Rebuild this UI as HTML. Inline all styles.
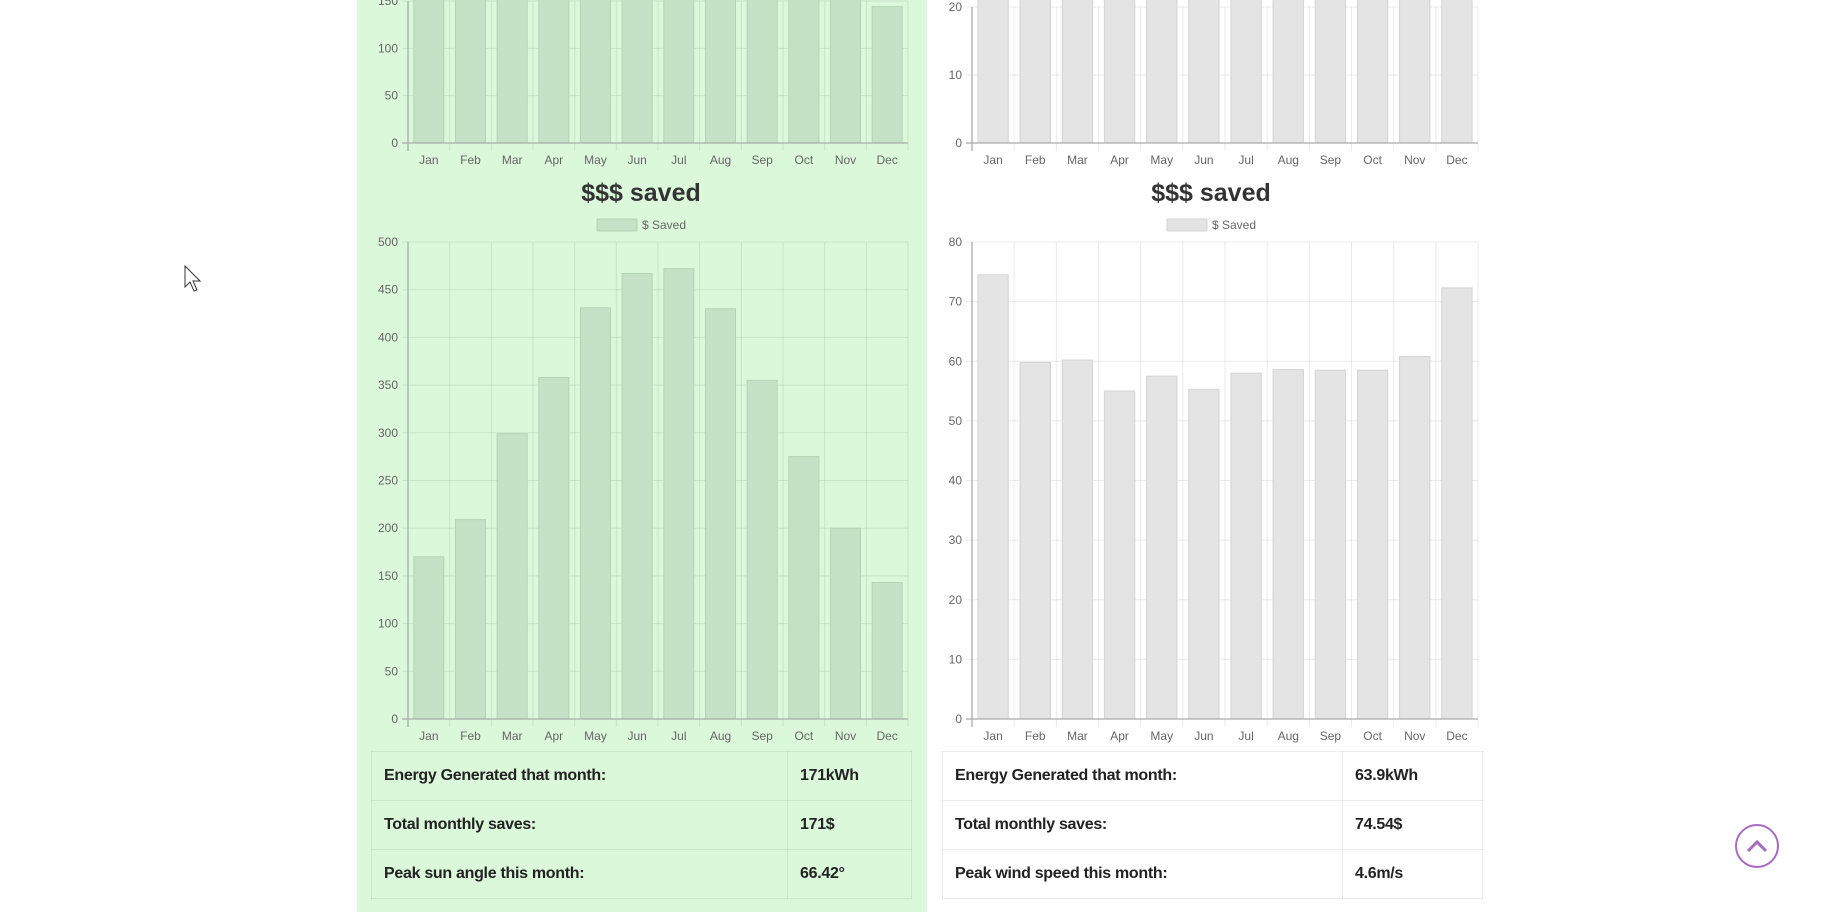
<!DOCTYPE html>
<html><head><meta charset="utf-8">
<style>
html,body{margin:0;padding:0;background:#fff;width:1842px;height:912px;overflow:hidden;font-family:"Liberation Sans",sans-serif}
svg{position:absolute;left:0;top:0}
.tbl{position:absolute;border-collapse:collapse;font-weight:bold;font-size:16px;color:#222;letter-spacing:-0.3px}
.tbl td{border:1px solid rgba(0,0,0,0.07);height:48px;padding:0 0 0 12px}
</style></head><body>
<svg id="s" width="1842" height="912">
<rect x="357" y="0" width="570" height="912" fill="#dbf8db"/>
</svg>
<table class="tbl" style="left:371px;top:751px;width:541px">
<tr><td style="width:403px">Energy Generated that month:</td><td>171kWh</td></tr>
<tr><td>Total monthly saves:</td><td>171$</td></tr>
<tr><td>Peak sun angle this month:</td><td>66.42°</td></tr>
</table>
<table class="tbl" style="left:942px;top:751px;width:541px">
<tr><td style="width:387px">Energy Generated that month:</td><td>63.9kWh</td></tr>
<tr><td>Total monthly saves:</td><td>74.54$</td></tr>
<tr><td>Peak wind speed this month:</td><td>4.6m/s</td></tr>
</table>
<script>
const months=["Jan","Feb","Mar","Apr","May","Jun","Jul","Aug","Sep","Oct","Nov","Dec"];
const solarTopValues=[160,160,160,160,160,160,160,160,160,160,160,144];
const solarTopTicks=[0,50,100,150];
const solarSavedValues=[170,209,299,358,431,467,472,430,355,275,200,143];
const solarSavedTicks=[0,50,100,150,200,250,300,350,400,450,500];
const windTopValues=[22,22,22,22,22,22,22,22,22,22,22,22];
const windTopTicks=[0,10,20];
const windSavedValues=[74.5,59.8,60.2,55,57.5,55.3,58,58.6,58.5,58.5,60.8,72.3];
const windSavedTicks=[0,10,20,30,40,50,60,70,80];
const svg=document.getElementById('s');
const NS='http://www.w3.org/2000/svg';
function mk(tag,attrs,parent){const e=document.createElementNS(NS,tag);for(const k in attrs)e.setAttribute(k,attrs[k]);(parent||svg).appendChild(e);return e;}
function chart(name,x0,x1,y0,yTopPx,maxV,ticks,vals,fill,stroke,grid){
  const g=mk('g',{});
  
  
  const ys=v=>y0-(v/maxV)*(y0-yTopPx);
  const cw=(x1-x0)/months.length;
  ticks.forEach(t=>{const y=ys(t);
    const l=mk('line',{x1:x0-6,x2:x1,y1:y,y2:y,stroke:grid,'stroke-width':1},g);
    
    
    const tx=mk('text',{x:x0-10,y:y+4,'text-anchor':'end','font-size':12,fill:'#666'},g);tx.textContent=t;
    
    
  });
  for(let i=0;i<=months.length;i++){const x=x0+i*cw;
    const l=mk('line',{x1:x,x2:x,y1:Math.max(yTopPx,0),y2:y0+8,stroke:grid,'stroke-width':1},g);
    
    }
  vals.forEach((v,i)=>{const bw=cw*0.72;const x=x0+i*cw+(cw-bw)/2;const y=Math.max(ys(v),-2);
    const r=mk('rect',{x:x,y:y,width:bw,height:y0-y,fill:fill,stroke:stroke,'stroke-width':1},g);
    
    
    const tx=mk('text',{x:x0+i*cw+cw/2,y:y0+21,'text-anchor':'middle','font-size':12,fill:'#666'},g);tx.textContent=months[i];
    
    
  });
  const ax=mk('line',{x1:x0,x2:x0,y1:Math.max(yTopPx,0),y2:y0+8,stroke:'#aaa','stroke-width':1.3},g);
  
  
  const bx=mk('line',{x1:x0-6,x2:x1,y1:y0,y2:y0,stroke:'#aaa','stroke-width':1.3},g);
  
  
}
function header(cx,fill,stroke){
  const t=mk('text',{x:cx,y:201,'text-anchor':'middle','font-size':25,'font-weight':'bold',fill:'#333'});t.textContent='$$$ saved';
  
  
  const b=mk('rect',{x:cx-44,y:219,width:40,height:12,fill:fill,stroke:stroke});
  
  
  const l=mk('text',{x:cx+1,y:229,'font-size':12,fill:'#666'});l.textContent='$ Saved';
  
  
}
const gF='#c6e2c6',gS='#b2d4b2',gG='rgba(0,0,0,0.08)';
const wF='#e4e4e4',wS='#d4d4d4',wG='rgba(0,0,0,0.08)';
chart('solar-top-chart',408,908,143,1,150,solarTopTicks,solarTopValues,gF,gS,gG);
header(641,gF,gS);
chart('solar-saved-chart',408,908,719,242,500,solarSavedTicks,solarSavedValues,gF,gS,gG);
chart('wind-top-chart',972,1478,143,7,20,windTopTicks,windTopValues,wF,wS,wG);
header(1211,wF,wS);
chart('wind-saved-chart',972,1478,719,242,80,windSavedTicks,windSavedValues,wF,wS,wG);
// scroll to top button
const c=mk('circle',{cx:1757,cy:846,r:21,fill:'none',stroke:'#a56cc1','stroke-width':2});


const p=mk('polyline',{points:'1748,851 1757,842 1766,851',fill:'none',stroke:'#a56cc1','stroke-width':3});


// cursor
const cur=mk('path',{d:'M185,266 L185,287 L190,282 L194,291 L197,290 L193,281 L200,281 Z',fill:'#fff',stroke:'#333','stroke-width':1});


</script>
</body></html>
